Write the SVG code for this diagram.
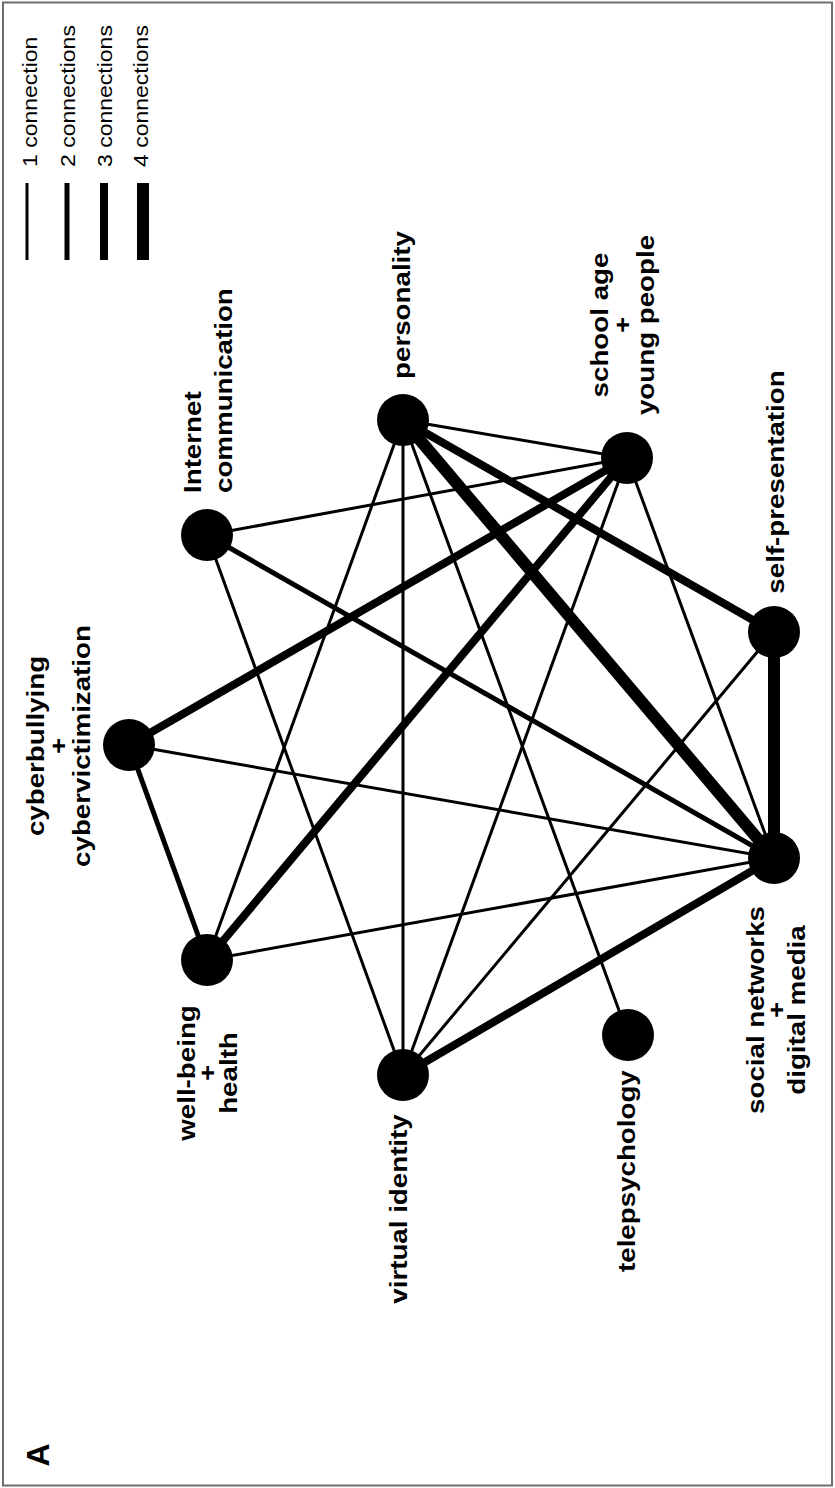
<svg xmlns="http://www.w3.org/2000/svg" width="835" height="1488" viewBox="0 0 835 1488">
<style>
.bg{fill:#ffffff}
.frame{fill:none;stroke:#6e6e6e;stroke-width:2}
.node{fill:#000000}
.e{stroke:#000000;fill:none;stroke-linecap:butt}
.w1{stroke-width:3}
.w2{stroke-width:5}
.w3{stroke-width:8}
.w4{stroke-width:12}
.lab{font-family:"Liberation Sans",Arial,sans-serif;font-weight:bold;font-size:23.5px;fill:#000000}
.leg{font-family:"Liberation Sans",Arial,sans-serif;font-size:19.5px;fill:#000000}
.panel{font-family:"Liberation Sans",Arial,sans-serif;font-weight:bold;font-size:32px;fill:#000000}
</style>
<rect class="bg" x="0" y="0" width="835" height="1488"/>
<rect class="frame" x="3" y="2.5" width="829" height="1483"/>

<g id="connectors">
<line class="e w1" x1="403" y1="420" x2="627" y2="458"/>
<line class="e w4" x1="403" y1="420" x2="774" y2="858"/>
<line class="e w3" x1="403" y1="420" x2="774" y2="632"/>
<line class="e w1" x1="403" y1="420" x2="403" y2="1075"/>
<line class="e w1" x1="403" y1="420" x2="207" y2="960"/>
<line class="e w1" x1="403" y1="420" x2="628" y2="1035"/>
<line class="e w1" x1="627" y1="458" x2="207" y2="535"/>
<line class="e w3" x1="627" y1="458" x2="129" y2="745"/>
<line class="e w3" x1="627" y1="458" x2="207" y2="960"/>
<line class="e w1" x1="627" y1="458" x2="403" y2="1075"/>
<line class="e w1" x1="627" y1="458" x2="774" y2="858"/>
<line class="e w2" x1="207" y1="535" x2="774" y2="858"/>
<line class="e w1" x1="207" y1="535" x2="403" y2="1075"/>
<line class="e w4" x1="774" y1="632" x2="774" y2="858"/>
<line class="e w1" x1="774" y1="632" x2="403" y2="1075"/>
<line class="e w1" x1="129" y1="745" x2="774" y2="858"/>
<line class="e w2" x1="129" y1="745" x2="207" y2="960"/>
<line class="e w1" x1="207" y1="960" x2="774" y2="858"/>
<line class="e w3" x1="403" y1="1075" x2="774" y2="858"/>
</g>

<g id="personality">
<circle class="node" cx="403" cy="420" r="26"/>
<text class="lab" text-anchor="middle" transform="translate(410,305) rotate(-90) scale(1.18,1)">personality</text>
</g>
<g id="school-age">
<circle class="node" cx="627" cy="458" r="26"/>
<text class="lab" text-anchor="middle" transform="translate(608,325) rotate(-90) scale(1.18,1)">school age</text>
<text class="lab" text-anchor="middle" transform="translate(631,325) rotate(-90) scale(1.18,1)">+</text>
<text class="lab" text-anchor="middle" transform="translate(654,325) rotate(-90) scale(1.18,1)">young people</text>
</g>
<g id="internet-communication">
<circle class="node" cx="207" cy="535" r="26"/>
<text class="lab" text-anchor="start" transform="translate(201,493) rotate(-90) scale(1.18,1)">Internet</text>
<text class="lab" text-anchor="start" transform="translate(232,493) rotate(-90) scale(1.18,1)">communication</text>
</g>
<g id="self-presentation">
<circle class="node" cx="774" cy="632" r="26"/>
<text class="lab" text-anchor="middle" transform="translate(784,482) rotate(-90) scale(1.18,1)">self-presentation</text>
</g>
<g id="cyberbullying">
<circle class="node" cx="129" cy="745" r="26"/>
<text class="lab" text-anchor="middle" transform="translate(44,746) rotate(-90) scale(1.18,1)">cyberbullying</text>
<text class="lab" text-anchor="middle" transform="translate(67,746) rotate(-90) scale(1.18,1)">+</text>
<text class="lab" text-anchor="middle" transform="translate(90,746) rotate(-90) scale(1.18,1)">cybervictimization</text>
</g>
<g id="social-networks">
<circle class="node" cx="774" cy="858" r="26"/>
<text class="lab" text-anchor="middle" transform="translate(764,1010) rotate(-90) scale(1.18,1)">social networks</text>
<text class="lab" text-anchor="middle" transform="translate(785,1010) rotate(-90) scale(1.18,1)">+</text>
<text class="lab" text-anchor="middle" transform="translate(805,1010) rotate(-90) scale(1.18,1)">digital media</text>
</g>
<g id="well-being">
<circle class="node" cx="207" cy="960" r="26"/>
<text class="lab" text-anchor="middle" transform="translate(195,1073) rotate(-90) scale(1.18,1)">well-being</text>
<text class="lab" text-anchor="middle" transform="translate(216,1073) rotate(-90) scale(1.18,1)">+</text>
<text class="lab" text-anchor="middle" transform="translate(237,1073) rotate(-90) scale(1.18,1)">health</text>
</g>
<g id="virtual-identity">
<circle class="node" cx="403" cy="1075" r="26"/>
<text class="lab" text-anchor="middle" transform="translate(407,1209) rotate(-90) scale(1.18,1)">virtual identity</text>
</g>
<g id="telepsychology">
<circle class="node" cx="628" cy="1035" r="26"/>
<text class="lab" text-anchor="start" transform="translate(635,1272) rotate(-90) scale(1.18,1)">telepsychology</text>
</g>

<g id="legend">
<line class="e" stroke-width="3" x1="27" y1="183" x2="27" y2="260"/>
<line class="e" stroke-width="5" x1="67" y1="183" x2="67" y2="260"/>
<line class="e" stroke-width="8" x1="104" y1="183" x2="104" y2="260"/>
<line class="e" stroke-width="12" x1="143" y1="183" x2="143" y2="260"/>
<text class="leg" transform="translate(37,167) rotate(-90) scale(1.18,1)">1 connection</text>
<text class="leg" transform="translate(75,167) rotate(-90) scale(1.18,1)">2 connections</text>
<text class="leg" transform="translate(112,167) rotate(-90) scale(1.18,1)">3 connections</text>
<text class="leg" transform="translate(148,167) rotate(-90) scale(1.18,1)">4 connections</text>
</g>

<g id="panel-label">
<text class="panel" text-anchor="middle" transform="translate(49,1455) rotate(-90)">A</text>
</g>
</svg>
